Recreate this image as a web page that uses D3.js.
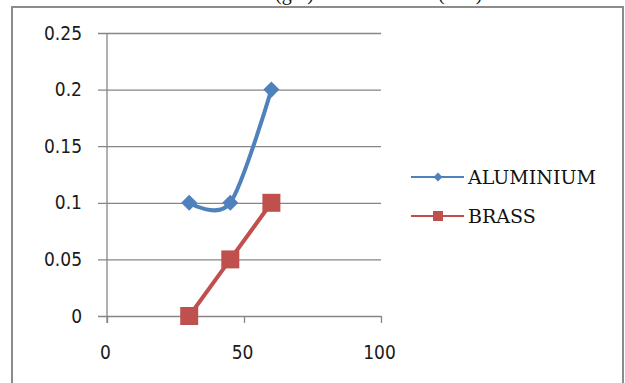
<!DOCTYPE html>
<html>
<head>
<meta charset="utf-8">
<script src="https://cdn.jsdelivr.net/npm/d3@7/dist/d3.min.js"></script>
<style>
  html, body { margin: 0; padding: 0; background: #fff; }
  svg { display: block; }
  .tick-label { font-family: "DejaVu Sans Condensed", "DejaVu Sans", sans-serif; font-stretch: condensed; font-size: 19px; fill: #1a1a1a; }
  .legend-label { font-family: "DejaVu Serif", serif; font-size: 19px; fill: #111; }
  .title-frag { font-family: "Liberation Serif", serif; font-size: 20px; fill: #111; }
</style>
</head>
<body>
<svg id="chart" width="625" height="383"></svg>
<script>
// Series data
const xValues = [30, 45, 60];
const aluminium = [0.1, 0.1, 0.2];
const brass = [0, 0.05, 0.1];
const seriesNames = ["ALUMINIUM", "BRASS"];
const yTicks = [0, 0.05, 0.1, 0.15, 0.2, 0.25];
const yTickLabels = ["0", "0.05", "0.1", "0.15", "0.2", "0.25"];
const xTicks = [0, 50, 100];
const xTickLabels = ["0", "50", "100"];

const svg = d3.select("#chart");
const W = 625, H = 383;
const blue = "#4F81BD", red = "#C0504D", axisGray = "#868686";

// Title line, mostly above the top edge
svg.append("text").attr("class", "title-frag").attr("x", 275).attr("y", 0).text("(gm)");
svg.append("text").attr("class", "title-frag").attr("x", 438).attr("y", 0).text("(mm)");

// Chart area border
svg.append("rect")
  .attr("x", 12).attr("y", 7).attr("width", 611).attr("height", H + 10)
  .attr("fill", "none").attr("stroke", "#8c8c8c").attr("stroke-width", 2);

const x = d3.scaleLinear().domain([0, 100]).range([107, 381]);
const y = d3.scaleLinear().domain([0, 0.25]).range([316, 33]);

// Horizontal gridlines with outward tick stubs
const yAxis = d3.axisLeft(y).tickValues(yTicks)
  .tickSize(-(x(100) - x(0)))
  .tickFormat((d, i) => yTickLabels[i]);
const gy = svg.append("g").attr("transform", `translate(${x(0)},0)`).call(yAxis);
gy.select(".domain").remove();
gy.selectAll(".tick line")
  .attr("x1", -9).attr("x2", x(100) - x(0))
  .attr("stroke", axisGray).attr("stroke-width", 1.3);
gy.selectAll(".tick text")
  .attr("class", "tick-label")
  .attr("x", -25).attr("dy", null).attr("y", 6)
  .attr("text-anchor", "end");

// Vertical axis line
svg.append("line")
  .attr("x1", x(0)).attr("x2", x(0)).attr("y1", y(0.25)).attr("y2", y(0) + 7)
  .attr("stroke", axisGray).attr("stroke-width", 1.3);

// Horizontal axis ticks and labels
const xAxis = d3.axisBottom(x).tickValues(xTicks).tickSize(7)
  .tickFormat((d, i) => xTickLabels[i]);
const gx = svg.append("g").attr("transform", `translate(0,${y(0)})`).call(xAxis);
gx.select(".domain").remove();
gx.selectAll(".tick line").attr("stroke", axisGray).attr("stroke-width", 1.3);
gx.selectAll(".tick text")
  .attr("class", "tick-label")
  .attr("x", -2).attr("dy", null).attr("y", 43)
  .attr("text-anchor", "middle");

// Series lines
const alPts = xValues.map((v, i) => [x(v), y(aluminium[i])]);
const brPts = xValues.map((v, i) => [x(v), y(brass[i])]);

svg.append("path")
  .attr("d", d3.line().curve(d3.curveCardinal.tension(0.1))(alPts))
  .attr("fill", "none").attr("stroke", blue).attr("stroke-width", 4)
  .attr("stroke-linecap", "round");
svg.append("path")
  .attr("d", d3.line()(brPts))
  .attr("fill", "none").attr("stroke", red).attr("stroke-width", 4)
  .attr("stroke-linecap", "round");

// Markers
const diamond = d3.symbol().type(d3.symbolDiamond2);
svg.append("g").selectAll("path").data(alPts).join("path")
  .attr("transform", d => `translate(${d[0]},${d[1]})`)
  .attr("d", diamond.size(165)())
  .attr("fill", blue);
svg.append("g").selectAll("rect").data(brPts).join("rect")
  .attr("x", d => d[0] - 9).attr("y", d => d[1] - 9)
  .attr("width", 18).attr("height", 18)
  .attr("fill", red);

// Legend
const legend = svg.append("g");
const legendRows = [
  { name: seriesNames[0], color: blue, y: 177, shape: "diamond" },
  { name: seriesNames[1], color: red, y: 216, shape: "square" }
];
legendRows.forEach(r => {
  legend.append("line")
    .attr("x1", 411).attr("x2", 464).attr("y1", r.y).attr("y2", r.y)
    .attr("stroke", r.color).attr("stroke-width", 2);
  if (r.shape === "diamond") {
    legend.append("path")
      .attr("transform", `translate(438,${r.y})`)
      .attr("d", d3.symbol().type(d3.symbolDiamond2).size(50)())
      .attr("fill", r.color);
  } else {
    legend.append("rect")
      .attr("x", 433).attr("y", r.y - 5).attr("width", 10).attr("height", 10)
      .attr("fill", r.color);
  }
  legend.append("text").attr("class", "legend-label")
    .attr("x", 468).attr("y", r.y + 7).text(r.name);
});
</script>
</body>
</html>
